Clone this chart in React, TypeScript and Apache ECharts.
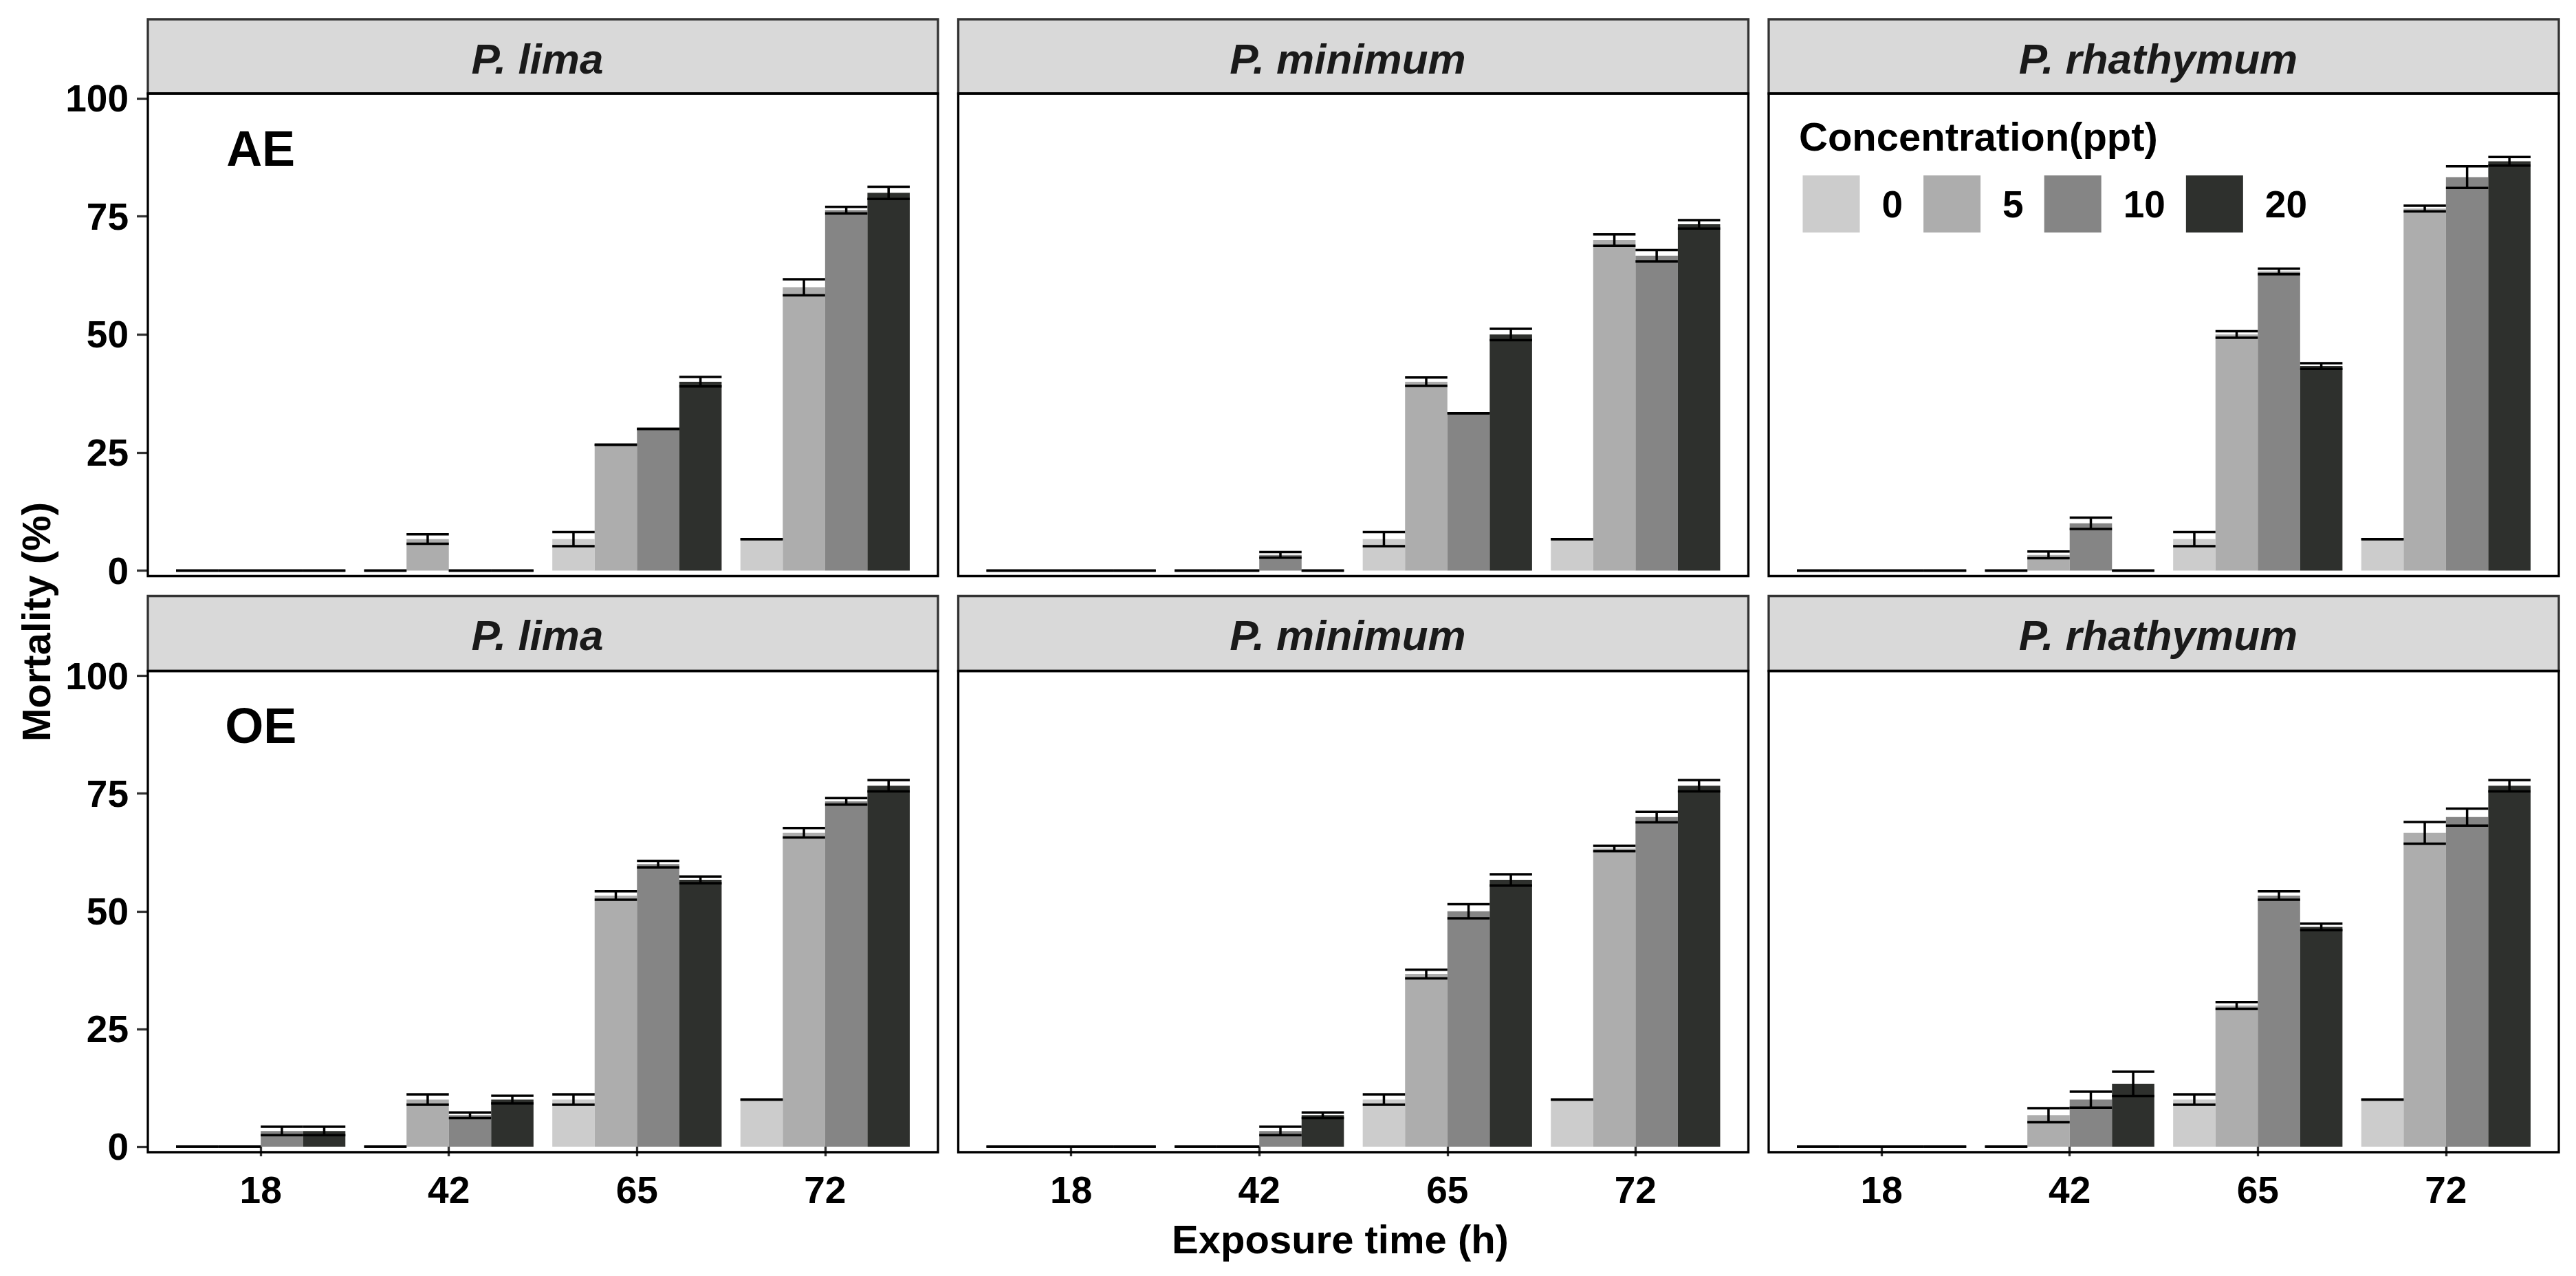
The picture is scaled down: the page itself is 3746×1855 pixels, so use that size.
import React, { useEffect, useRef } from "react";
import * as echarts from "echarts";

// ---------- data ----------
const CATEGORIES = ["18", "42", "65", "72"];
const CONCENTRATIONS = ["0", "5", "10", "20"];
const SPECIES = ["P. lima", "P. minimum", "P. rhathymum"];
const EXTRACT_TAGS = ["AE", "OE"];
const COLORS = ["#CCCCCC", "#ADADAD", "#858585", "#2E302D"];

// rows = concentration (0, 5, 10, 20), columns = exposure time (18, 42, 65, 72)
const AE_LIMA_MEAN = [[0, 0, 6.67, 6.67], [0, 6.67, 26.67, 60], [0, 0, 30, 76.33], [0, 0, 40, 80]];
const AE_LIMA_SE = [[0, 0, 1.5, 0], [0, 1, 0, 1.7], [0, 0, 0, 0.7], [0, 0, 1, 1.3]];

const AE_MINIMUM_MEAN = [[0, 0, 6.67, 6.67], [0, 0, 40, 70], [0, 3.33, 33.33, 66.67], [0, 0, 50, 73.33]];
const AE_MINIMUM_SE = [[0, 0, 1.5, 0], [0, 0, 0.9, 1.2], [0, 0.6, 0, 1.2], [0, 0, 1.2, 0.9]];

const AE_RHATHYMUM_MEAN = [[0, 0, 6.67, 6.67], [0, 3.33, 50, 76.67], [0, 10, 63.33, 83.33], [0, 0, 43.33, 86.67]];
const AE_RHATHYMUM_SE = [[0, 0, 1.5, 0], [0, 0.7, 0.7, 0.6], [0, 1.2, 0.6, 2.3], [0, 0, 0.6, 0.9]];

const OE_LIMA_MEAN = [[0, 0, 10, 10], [0, 10, 53.33, 66.67], [3.33, 6.67, 60, 73.33], [3.33, 10, 56.67, 76.67]];
const OE_LIMA_SE = [[0, 0, 1.1, 0], [0, 1.1, 0.9, 1], [0.9, 0.6, 0.7, 0.7], [0.9, 0.8, 0.7, 1.2]];

const OE_MINIMUM_MEAN = [[0, 0, 10, 10], [0, 0, 36.67, 63.33], [0, 3.33, 50, 70], [0, 6.67, 56.67, 76.67]];
const OE_MINIMUM_SE = [[0, 0, 1.1, 0], [0, 0, 0.9, 0.6], [0, 0.9, 1.5, 1.1], [0, 0.6, 1.2, 1.2]];

const OE_RHATHYMUM_MEAN = [[0, 0, 10, 10], [0, 6.67, 30, 66.67], [0, 10, 53.33, 70], [0, 13.33, 46.67, 76.67]];
const OE_RHATHYMUM_SE = [[0, 0, 1.1, 0], [0, 1.5, 0.7, 2.3], [0, 1.7, 0.9, 1.8], [0, 2.6, 0.7, 1.2]];

const PANEL_MEANS = [AE_LIMA_MEAN, AE_MINIMUM_MEAN, AE_RHATHYMUM_MEAN, OE_LIMA_MEAN, OE_MINIMUM_MEAN, OE_RHATHYMUM_MEAN];
const PANEL_SES = [AE_LIMA_SE, AE_MINIMUM_SE, AE_RHATHYMUM_SE, OE_LIMA_SE, OE_MINIMUM_SE, OE_RHATHYMUM_SE];
const TAG_Y = 89.4;

// ---------- layout ----------
const W = 3746;
const H = 1855;
const FONT = '"Liberation Sans", Arial, Helvetica, sans-serif';
const PANEL_LEFT = [215, 1393.5, 2572];
const PANEL_W = 1149;
const UNIT = PANEL_W / 4.2;
const ROWS = [
  { stripTop: 28, top: 136, bottom: 837.5, y100: 143, y0: 829.5 },
  { stripTop: 866.5, top: 975.5, bottom: 1675, y100: 982.5, y0: 1667 },
];
const LINE_W = 3.3;

function buildOption() {
  const grid: any[] = [];
  const xAxis: any[] = [];
  const yAxis: any[] = [];
  const series: any[] = [];
  const graphic: any[] = [];

  for (let r = 0; r < 2; r++) {
    for (let c = 0; c < 3; c++) {
      const p = r * 3 + c;
      const L = PANEL_LEFT[c];
      const row = ROWS[r];
      grid.push({
        left: L + 0.1 * UNIT,
        top: row.y100,
        width: 4 * UNIT,
        height: row.y0 - row.y100,
        containLabel: false,
      });
      xAxis.push({
        gridIndex: p,
        type: "category",
        data: CATEGORIES,
        offset: row.bottom - row.y0,
        axisLine: { show: false },
        axisTick: { show: r === 1, alignWithLabel: true, length: 14, lineStyle: { color: "#333", width: LINE_W } },
        axisLabel: { show: r === 1, margin: 27, fontSize: 55, fontWeight: "bold", color: "#000", fontFamily: FONT },
        splitLine: { show: false },
      });
      yAxis.push({
        gridIndex: p,
        type: "value",
        min: 0,
        max: 100,
        interval: 25,
        offset: 0.1 * UNIT,
        axisLine: { show: false },
        axisTick: { show: c === 0, length: 16, lineStyle: { color: "#333", width: LINE_W } },
        axisLabel: { show: c === 0, margin: 28, fontSize: 55, fontWeight: "bold", color: "#000", fontFamily: FONT },
        splitLine: { show: false },
      });

      const means = PANEL_MEANS[p];
      const ses = PANEL_SES[p];
      for (let k = 0; k < 4; k++) {
        series.push({
          type: "bar",
          name: CONCENTRATIONS[k],
          xAxisIndex: p,
          yAxisIndex: p,
          data: means[k],
          barGap: "0%",
          barCategoryGap: "10%",
          itemStyle: { color: COLORS[k] },
          silent: true,
          z: 2,
        });
      }
      const errData: number[][] = [];
      for (let k = 0; k < 4; k++) {
        for (let i = 0; i < CATEGORIES.length; i++) {
          errData.push([i, means[k][i], ses[k][i], k]);
        }
      }
      series.push({
        type: "custom",
        xAxisIndex: p,
        yAxisIndex: p,
        data: errData,
        silent: true,
        z: 5,
        clip: false,
        encode: { x: 0, y: 1 },
        renderItem: (params: any, api: any) => {
          const ci = api.value(0);
          const m = api.value(1);
          const s = api.value(2);
          const k = api.value(3);
          const base = api.coord([ci, m]);
          const band = api.size([1, 0])[0];
          const bw = (band * 0.9) / 4;
          const cx = base[0] + (k - 1.5) * bw;
          const yt = api.coord([ci, m + s])[1];
          const yb = api.coord([ci, m - s])[1];
          const st = { stroke: "#000", lineWidth: 3.5 };
          return {
            type: "group",
            children: [
              { type: "line", shape: { x1: cx - bw / 2, y1: yt, x2: cx + bw / 2, y2: yt }, style: st },
              { type: "line", shape: { x1: cx - bw / 2, y1: yb, x2: cx + bw / 2, y2: yb }, style: st },
              { type: "line", shape: { x1: cx, y1: yt, x2: cx, y2: yb }, style: st },
            ],
          };
        },
      });
      if (c === 0) {
        series.push({
          type: "scatter",
          xAxisIndex: p,
          yAxisIndex: p,
          data: [[CATEGORIES[0], TAG_Y]],
          symbolSize: 0.01,
          itemStyle: { color: "#000", opacity: 1 },
          silent: true,
          z: 6,
          label: {
            show: true,
            position: "inside",
            formatter: EXTRACT_TAGS[r],
            fontSize: 72,
            fontWeight: "bold",
            color: "#000000",
            opacity: 1,
            textBorderWidth: 0,
            fontFamily: FONT,
          },
        });
      }

      // strip
      graphic.push({
        type: "rect",
        z: 10,
        shape: { x: L, y: row.stripTop, width: PANEL_W, height: row.top - row.stripTop },
        style: { fill: "#D9D9D9", stroke: "#333333", lineWidth: LINE_W },
      });
      graphic.push({
        type: "text",
        z: 11,
        x: L + PANEL_W / 2 - 8,
        y: row.stripTop + 57,
        style: {
          text: SPECIES[c],
          fontSize: 62,
          fontStyle: "italic",
          fontWeight: "bold",
          fontFamily: FONT,
          fill: "#1A1A1A",
          align: "center",
          verticalAlign: "middle",
        },
      });
      // panel border
      graphic.push({
        type: "rect",
        z: 10,
        shape: { x: L, y: row.top, width: PANEL_W, height: row.bottom - row.top },
        style: { fill: "none", stroke: "#000", lineWidth: LINE_W },
      });
    }
  }

  graphic.push({
    type: "text",
    z: 11,
    x: 52,
    y: 904,
    rotation: Math.PI / 2,
    style: {
      text: "Mortality (%)",
      fontSize: 58,
      fontWeight: "bold",
      fontFamily: FONT,
      fill: "#000",
      align: "center",
      verticalAlign: "middle",
    },
  });
  graphic.push({
    type: "text",
    z: 11,
    x: 1949,
    y: 1801,
    style: {
      text: "Exposure time (h)",
      fontSize: 58,
      fontWeight: "bold",
      fontFamily: FONT,
      fill: "#000",
      align: "center",
      verticalAlign: "middle",
    },
  });
  graphic.push({
    type: "text",
    z: 11,
    x: 2616,
    y: 198.5,
    style: {
      text: "Concentration(ppt)",
      fontSize: 58,
      fontWeight: "bold",
      fontFamily: FONT,
      fill: "#000",
      align: "left",
      verticalAlign: "middle",
    },
  });

  return {
    animation: false,
    backgroundColor: "#FFFFFF",
    textStyle: { fontFamily: FONT },
    grid,
    xAxis,
    yAxis,
    series,
    graphic,
    legend: {
      show: true,
      data: CONCENTRATIONS,
      left: 2621.5,
      top: 255,
      orient: "horizontal",
      itemWidth: 83,
      itemHeight: 83,
      itemGap: 30,
      padding: 0,
      icon: "rect",
      selectedMode: false,
      textStyle: {
        fontSize: 55,
        fontWeight: "bold",
        color: "#000",
        fontFamily: FONT,
        padding: [12, 0, 0, 27],
      },
    },
  };
}

export default function App() {
  const ref = useRef<HTMLDivElement>(null);
  useEffect(() => {
    if (!ref.current) return;
    const chart = echarts.init(ref.current, undefined, { renderer: "svg", width: W, height: H });
    chart.setOption(buildOption() as any);
    return () => chart.dispose();
  }, []);
  return (
    <div
      ref={ref}
      style={{ position: "absolute", left: 0, top: 0, width: W, height: H, background: "#fff" }}
    />
  );
}
